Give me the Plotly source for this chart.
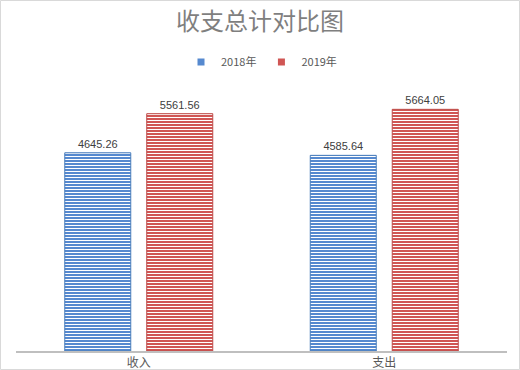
import plotly.graph_objects as go

categories = ["收入", "支出"]
series_names = ["2018年", "2019年"]
values_2018 = [4645.26, 4585.64]
values_2019 = [5561.56, 5664.05]
title_text = "收支总计对比图"

W, H = 520, 370
ml, mr, mt, mb = 16, 13, 95, 19
pw, ph = W - ml - mr, H - mt - mb

stripe_colors = {"2018年": "#5689cf", "2019年": "#d05654"}
edge_colors = {"2018年": "#4a7ebb", "2019年": "#be4b48"}

fig = go.Figure()
for name, vals in [(series_names[0], values_2018), (series_names[1], values_2019)]:
    c = stripe_colors[name]
    fig.add_trace(go.Bar(
        x=categories, y=vals, name=name, showlegend=False,
        marker=dict(color=c, line=dict(color=edge_colors[name], width=1),
                    pattern=dict(shape="-", fgcolor="white", bgcolor=c,
                                 size=3, solidity=1 / 3, fillmode="replace")),
        texttemplate="%{y:.2f}", textposition="outside",
        textfont=dict(size=11, color="#404040", family="Liberation Sans, Arial, sans-serif"),
        cliponaxis=False, hoverinfo="skip",
    ))
    # legend entry with small square symbol
    fig.add_trace(go.Scatter(
        x=[None], y=[None], mode="markers", name=name,
        marker=dict(symbol="square", size=7, color=c),
    ))

fig.update_layout(
    width=W, height=H,
    margin=dict(l=ml, r=mr, t=mt, b=mb, pad=0, autoexpand=False),
    paper_bgcolor="white", plot_bgcolor="white",
    barmode="group", bargap=0.332, bargroupgap=0.195,
    title=dict(text=title_text, x=0.5, xanchor="center", y=1 - 22 / H, yanchor="middle",
               font=dict(size=24, color="#7f7f7f", family="Noto Sans CJK SC")),
    legend=dict(orientation="h", x=0.5, xanchor="center", y=(H - mb - 62) / ph, yanchor="middle",
                font=dict(size=11, color="#595959", family="Noto Sans CJK SC"),
                itemwidth=30, tracegroupgap=0),
    xaxis=dict(showline=True, linecolor="#bfbfbf", linewidth=2, showgrid=False,
               ticks="", tickfont=dict(size=12, color="#595959", family="Noto Sans CJK SC"),
               ticklabelstandoff=0, automargin=False),
    yaxis=dict(range=[0, 6000], visible=False, showgrid=False, zeroline=False, automargin=False),
    font=dict(family="Noto Sans CJK SC"),
)

fig.add_shape(type="rect", xref="paper", yref="paper",
              x0=(0.5 - ml) / pw, x1=(W - 0.5 - ml) / pw,
              y0=(H - mb - (H - 0.5)) / ph, y1=(H - mb - 0.5) / ph,
              line=dict(color="#d9d9d9", width=1), fillcolor="rgba(0,0,0,0)", layer="above")

fig.write_html("out.html", config={"displayModeBar": False},
               post_script="document.body.style.margin='0';document.body.style.overflow='hidden';")
